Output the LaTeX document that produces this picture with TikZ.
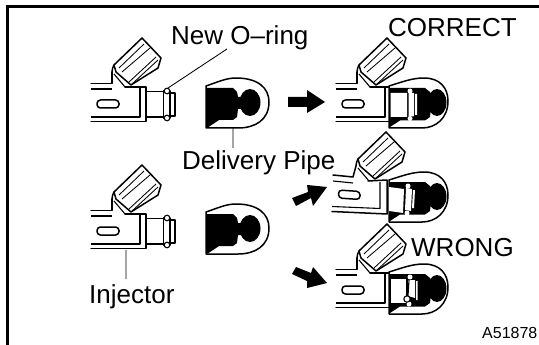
\documentclass[tikz,border=0pt]{standalone}
\usepackage{fontspec}
\setmainfont{Liberation Sans}
\tikzset{x=1pt,y=-1pt,
 ln/.style={line width=1.5pt,line join=round,line cap=round},
 mid/.style={line width=1.1pt,line join=round},
 thn/.style={line width=.85pt,line join=round},
 lab/.style={inner sep=0,anchor=base west,font=\fontsize{26}{28}\selectfont},
 capart/.pic={
  \fill[white] (112,84)--(112,72)--(114,65)--(142,38)--(161,58)--(158,68)--(131,85)--(125,88)--cycle;
  \draw[ln] (112,72)..controls (112,69) and (113,67) ..(114,65);
  \draw[mid] (114,74)--(125,87);
  \draw[ln,fill=white] (114,65)--(142,38)--(161,58)--(158,68)--(131,85)--(116,72)--cycle;
  \draw[thn] (119,68)--(144,44) (122,72)--(150,48) (129,82)--(156,57) (132,84)--(158,60);
 },
 injector/.pic={
  \fill[white] (91,84)--(112,84)--(125,87)--(146,87)--(146,121.5)--(91,121.5)--cycle;
  \pic {capart};
  \draw[ln] (91,83.5)--(112,83.5)--(112,72);
  \draw[mid] (91,89)--(112,89);
  \draw[ln] (125,87)--(146,87)--(146,121.5)--(91,121.5);
  \draw[mid] (91,117)--(140,117)--(140,88);
  \draw[ln,fill=white,rounded corners=3.5pt] (97,100) rectangle (119,108);
 },
 nozzle/.pic={
  \draw[ln] (146,91.5)--(163,91.5) (146,117)--(163,117);
  \draw[mid,fill=white] (170,93)--(175,93)--(175,116)--(170,116);
  \draw[ln,fill=white] (163.5,91) rectangle (170,118);
  \draw[mid,fill=white] (167,91) circle (2.8) (167,118) circle (2.8);
 },
 pipe/.pic={
  \draw[ln,fill=white] (206,86)..controls (218,82) and (226,78) ..(236,78)
    ..controls (258,78) and (269,88) ..(269,102)
    ..controls (269,120) and (255,128) ..(238,128)--(206,128)--cycle;
  \fill[black] (206,86)--(206,88)--(233,88)--(237,92)--(238,97)--(244,97)--(244,109)--(238,109)--(237,117)--(233,120)--(219,120)--(207,128)--(206,128)--cycle;
  \fill[black] (250,102.5) ellipse [x radius=10.5,y radius=13.5];
 },
 apipe/.pic={
  \draw[ln,fill=white] (389,86)..controls (402,82) and (412,78) ..(424,78)
    ..controls (440,78) and (448,88) ..(448,101)
    ..controls (448,118) and (436,128) ..(422,128)--(389,128)--cycle;
  \fill[black] (389,86)--(389,88)--(425,88)--(430,92)--(431,98)--(431,108)--(430,117)--(425,120.5)--(400,120.5)--(390,127)--(389,128)--cycle;
  \fill[black] (437,102.5) ellipse [x radius=9.5,y radius=13.5];
 }}
\begin{document}
\begin{tikzpicture}
\useasboundingbox (0,0) rectangle (539,345);
\fill[white] (0,0) rectangle (539,345);
\draw[line width=2.2pt] (7.5,345)--(7.5,6.5)--(539,6.5);
% left column
\pic at (0,0) {injector}; \pic at (0,0) {nozzle}; \pic at (0,0) {pipe};
\pic at (0,127) {injector}; \pic at (0,127) {nozzle}; \pic at (0,126) {pipe};
% top right
\pic at (245,0) {injector};
\pic at (0,0) {apipe};
\fill[white] (390.5,93) rectangle (407,117) (408.5,93) rectangle (414,116.5) (415,94) rectangle (417,115);
\fill[white] (410,91) circle (2.5) (410,118.5) circle (2.5);
% middle right
\fill[white] (333,175)--(353,177)--(387,180)--(387,214)--(332,212)--cycle;
\pic at (244,94) {capart};
\draw[ln] (333,175)--(353,177)--(356,166);
\draw[mid] (333,181)--(353,183);
\draw[ln] (368,181)--(387,180)--(387,214)--(332,211.5);
\draw[mid] (332,206.5)--(380,208.5)--(380,182);
\draw[ln,fill=white,rounded corners=3.5pt] (338.5,190)--(360,191.5)--(360,199.5)--(338.5,198)--cycle;
\pic at (0,94) {apipe};
\fill[white] (389,187)--(404,189)--(403,213)--(389,211)--cycle;
\fill[white] (406,188)--(412,189)--(411,211)--(405,210)--cycle (413,190)--(415,190)--(414,208)--(412,208)--cycle;
\fill[white] (408,186) circle (2.5) (407,213) circle (2.5);
% bottom right
\pic at (245,186) {injector};
\pic at (0,186) {apipe};
\fill[white] (390.5,279) rectangle (406,303);
\fill[white] (408,280)--(415,280)--(415,298)--(408,296)--cycle (416,281) rectangle (417.5,300);
\fill[white] (410,277) circle (2.5) (409,304) circle (2.5);
\draw[mid,fill=white] (407,299) circle (3.2);
\draw[mid] (409,280)--(408,296);
% arrows
\fill[black] (288,97)--(307,97)--(307,90)--(325,102)--(307,113)--(307,107)--(288,107)--cycle;
\fill[black] (292,198)--(308,192)--(307,185)--(327,187)--(313,206)--(311,198)--(296,206)--cycle;
\fill[black] (296,267)--(311,273)--(313,267)--(327,283)--(307,288)--(307,281)--(292,274)--cycle;
% leaders
\coordinate (l1a) at (227,49); \coordinate (l1b) at (168,88);
\coordinate (l2a) at (233,128); \coordinate (l2b) at (233,148);
\coordinate (l3a) at (126,250); \coordinate (l3b) at (126,279);
\draw[thn] (l1a)--(l1b) (l2a)--(l2b) (l3a)--(l3b);
% text
\node[lab] (t1) at (171,45) {New O–ring};
\node[lab] (t2) at (388,37) {CORRECT};
\node[lab] (t3) at (182,169) {Delivery Pipe};
\node[lab] (t4) at (411,256) {WRONG};
\node[lab] (t5) at (89,303) {Injector};
\node[inner sep=0,anchor=base west,font=\fontsize{16}{18}\selectfont] (t6) at (482,338) {A51878};
\end{tikzpicture}
\end{document}
